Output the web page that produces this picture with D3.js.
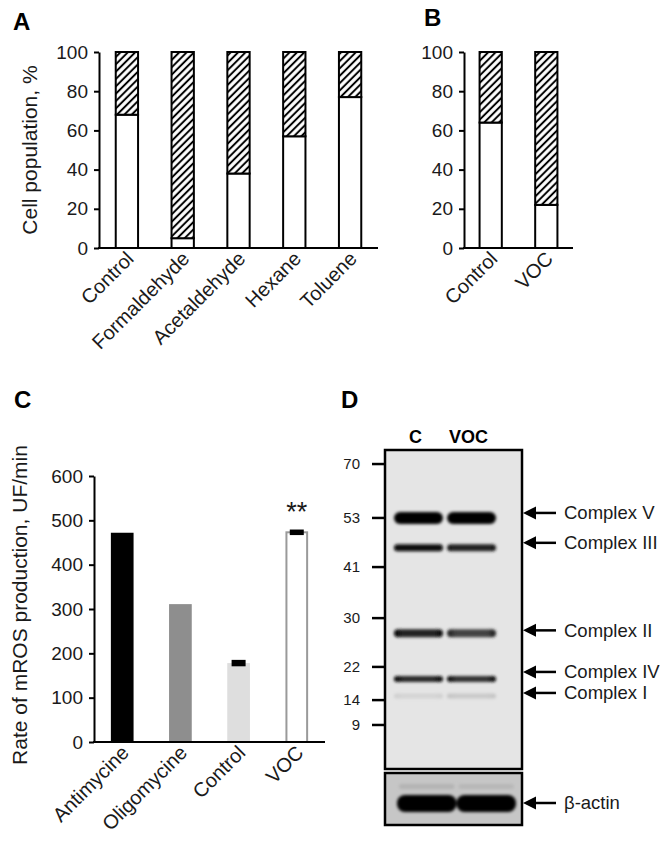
<!DOCTYPE html>
<html>
<head>
<meta charset="utf-8">
<script src="https://cdn.jsdelivr.net/npm/d3@7"></script>
<style>
  body { margin: 0; background: #fff; }
  svg { display: block; font-family: "Liberation Sans", Arial, sans-serif; }
</style>
</head>
<body>
<div id="fig"></div>
<script>
// panel A: cell population after single compounds
const catsA = ["Control", "Formaldehyde", "Acetaldehyde", "Hexane", "Toluene"];
const intactA = [68, 5, 38, 57, 77];
const damagedA = [32, 95, 62, 43, 23];
// panel B: control vs VOC mix
const catsB = ["Control", "VOC"];
const intactB = [64, 22];
const damagedB = [36, 78];
const pctTicks = [0, 20, 40, 60, 80, 100];

// panel C: mROS production rate
const catsC = ["Antimycine", "Oligomycine", "Control", "VOC"];
const rosC = [472, 311, 178, 473];
const errC = [0, 0, 5, 4];
const rosTicks = [0, 100, 200, 300, 400, 500, 600];

// panel D: western blot (ladder + OXPHOS complexes)
const markerKDa = [70, 53, 41, 30, 22, 14, 9];
const markerRf = [0.044, 0.213, 0.367, 0.527, 0.680, 0.784, 0.862];
const lanes = ["C", "VOC"];
const complexes = ["Complex V", "Complex III", "Complex II", "Complex IV", "Complex I"];
const complexKDa = [53, 45.7, 27.5, 19.1, 15];
const signalC = [1.0, 0.95, 0.86, 0.84, 0.07];
const signalVOC = [1.0, 0.86, 0.72, 0.8, 0.12];
const actinSignal = [1.0, 1.0];
const actinFaint = [0.1, 0.08];

const W = 666, H = 843;
const ink = "#1a1a1a";

const svg = d3.select("#fig").append("svg")
    .attr("width", W)
    .attr("height", H);

const defs = svg.append("defs");

// 斜线填充
const hatch = defs.append("pattern")
    .attr("id", "hatch")
    .attr("patternUnits", "userSpaceOnUse")
    .attr("width", 5.2)
    .attr("height", 5.2)
    .attr("patternTransform", "rotate(45)");
hatch.append("rect").attr("width", 5.2).attr("height", 5.2).attr("fill", "#fff");
hatch.append("line")
    .attr("x1", 2.6).attr("y1", 0).attr("x2", 2.6).attr("y2", 5.2)
    .attr("stroke", "#000").attr("stroke-width", 2);

defs.append("filter")
    .attr("id", "blur")
    .attr("filterUnits", "userSpaceOnUse")
    .attr("x", 370).attr("y", 430).attr("width", 180).attr("height", 420)
    .append("feGaussianBlur")
    .attr("stdDeviation", 1.8);

function panelLabel(txt, x, y) {
    svg.append("text")
        .attr("x", x).attr("y", y)
        .attr("font-size", 24)
        .attr("font-weight", "bold")
        .attr("fill", "#000")
        .text(txt);
}

function styleAxis(g) {
    g.select(".domain").attr("stroke", "#000").attr("stroke-width", 2);
    g.selectAll(".tick line").attr("stroke", "#000").attr("stroke-width", 2);
    g.selectAll(".tick text")
        .attr("font-size", 19)
        .attr("fill", ink)
        .attr("font-family", "Liberation Sans, Arial, sans-serif");
}

function categoryLabels(x, cats, y0) {
    svg.append("g").selectAll("text")
        .data(cats)
        .enter().append("text")
        .attr("transform", d => `translate(${x(d) + x.bandwidth() / 2 + 8}, ${y0 + 12}) rotate(-45)`)
        .attr("text-anchor", "end")
        .attr("font-size", 20)
        .attr("fill", ink)
        .text(d => d);
}

// 堆叠柱状图 (A, B)
function stackPanel(cats, intact, damaged, xRange, padIn, padOut, withTitle) {
    const y = d3.scaleLinear().domain([0, 100]).range([248, 52]);
    const x = d3.scaleBand().domain(cats).range(xRange).paddingInner(padIn).paddingOuter(padOut);

    const rows = cats.map((c, i) => ({c, a: intact[i], b: damaged[i]}));
    const g = svg.append("g");

    g.selectAll(".low").data(rows).enter().append("rect")
        .attr("x", d => x(d.c))
        .attr("y", d => y(d.a))
        .attr("width", x.bandwidth())
        .attr("height", d => y(0) - y(d.a))
        .attr("fill", "#fff")
        .attr("stroke", "#000")
        .attr("stroke-width", 2);

    g.selectAll(".high").data(rows).enter().append("rect")
        .attr("x", d => x(d.c))
        .attr("y", d => y(d.a + d.b))
        .attr("width", x.bandwidth())
        .attr("height", d => y(d.a) - y(d.a + d.b))
        .attr("fill", "url(#hatch)")
        .attr("stroke", "#000")
        .attr("stroke-width", 2);

    const ax = svg.append("g")
        .attr("transform", `translate(${xRange[0]}, 0)`)
        .call(d3.axisLeft(y).tickValues(pctTicks).tickSize(5).tickSizeOuter(0).tickPadding(6));
    styleAxis(ax);

    svg.append("line")
        .attr("x1", xRange[0] - 1).attr("x2", xRange[1])
        .attr("y1", y(0)).attr("y2", y(0))
        .attr("stroke", "#000").attr("stroke-width", 2);

    categoryLabels(x, cats, y(0));

    if (withTitle) {
        svg.append("text")
            .attr("transform", `translate(37, ${(y(0) + y(100)) / 2}) rotate(-90)`)
            .attr("text-anchor", "middle")
            .attr("font-size", 21)
            .attr("fill", ink)
            .text("Cell population, %");
    }
}

panelLabel("A", 13, 30);
stackPanel(catsA, intactA, damagedA, [99, 378], 0.6, 0.3, true);
panelLabel("B", 424, 26);
stackPanel(catsB, intactB, damagedB, [464, 573], 0.6, 0.28, false);

// 面板 C
panelLabel("C", 14, 408);
const yC = d3.scaleLinear().domain([0, 600]).range([742, 476]);
const xC = d3.scaleBand().domain(catsC).range([94, 325]).paddingInner(0.61).paddingOuter(0.29);
const fillsC = ["#000", "#8e8e8e", "#dedede", "#fff"];
const rowsC = catsC.map((c, i) => ({c, v: rosC[i], e: errC[i], f: fillsC[i]}));

svg.append("g").selectAll("rect").data(rowsC).enter().append("rect")
    .attr("x", d => xC(d.c) + (d.c === "VOC" ? 1 : 0))
    .attr("y", d => yC(d.v))
    .attr("width", d => xC.bandwidth() - (d.c === "VOC" ? 2 : 0))
    .attr("height", d => yC(0) - yC(d.v))
    .attr("fill", d => d.f)
    .attr("stroke", d => d.c === "VOC" ? "#9a9a9a" : "none")
    .attr("stroke-width", 2);

// 误差条
svg.append("g").selectAll("rect").data(rowsC.filter(d => d.e > 0)).enter().append("rect")
    .attr("x", d => xC(d.c) + xC.bandwidth() / 2 - 7)
    .attr("y", d => yC(d.v + d.e) - 1)
    .attr("width", 14)
    .attr("height", d => yC(d.v - d.e) - yC(d.v + d.e) + 2)
    .attr("fill", "#000");

svg.append("text")
    .attr("x", xC("VOC") + xC.bandwidth() / 2)
    .attr("y", yC(rosC[3]) - 11)
    .attr("text-anchor", "middle")
    .attr("font-size", 27)
    .attr("fill", ink)
    .text("**");

const axC = svg.append("g")
    .attr("transform", "translate(94, 0)")
    .call(d3.axisLeft(yC).tickValues(rosTicks).tickSize(5).tickSizeOuter(0).tickPadding(6));
styleAxis(axC);
svg.append("line")
    .attr("x1", 93).attr("x2", 325)
    .attr("y1", yC(0)).attr("y2", yC(0))
    .attr("stroke", "#000").attr("stroke-width", 2);
categoryLabels(xC, catsC, yC(0));

svg.append("text")
    .attr("transform", `translate(27, 605) rotate(-90)`)
    .attr("text-anchor", "middle")
    .attr("font-size", 21)
    .attr("fill", ink)
    .text("Rate of mROS production, UF/min");

// 面板 D: 免疫印迹
panelLabel("D", 341, 408);
const gel = {x0: 385, x1: 522, y0: 450, y1: 769};
const act = {y0: 773, y1: 825};
const kdaToRf = d3.scaleLinear().domain(markerKDa).range(markerRf);
const rfToY = d3.scaleLinear().domain([0, 1]).range([gel.y0, gel.y1]);
const yD = k => rfToY(kdaToRf(k));
const xLane = d3.scaleBand().domain(lanes).range([393, 497]).paddingInner(0.04);
const shade = d3.interpolateRgb("#e4e4e4", "#050505");
const actinShade = d3.interpolateRgb("#c6c6c6", "#050505");

svg.append("rect")
    .attr("x", gel.x0).attr("y", gel.y0)
    .attr("width", gel.x1 - gel.x0).attr("height", gel.y1 - gel.y0)
    .attr("fill", "#e5e5e5");
svg.append("rect")
    .attr("x", gel.x0).attr("y", act.y0)
    .attr("width", gel.x1 - gel.x0).attr("height", act.y1 - act.y0)
    .attr("fill", "#c6c6c6");

const bandH = [12, 7, 8, 6, 5];
const edgeBoost = [0, 0.05, 0.18, 0.2, 0.03];
const bandRows = [];
complexes.forEach((name, i) => {
    lanes.forEach((lane, j) => {
        const s = (j === 0 ? signalC : signalVOC)[i];
        bandRows.push({id: `band${i}_${j}`, lane, k: complexKDa[i], s, e: Math.min(1, s + edgeBoost[i]), h: bandH[i]});
    });
});

// 条带两端略深
bandRows.forEach(d => {
    const lg = defs.append("linearGradient").attr("id", d.id);
    [[0, d.e], [0.18, d.s], [0.82, d.s], [1, d.e]].forEach(([o, v]) => {
        lg.append("stop").attr("offset", o).attr("stop-color", shade(v));
    });
});

const bands = svg.append("g").attr("filter", "url(#blur)");
bands.selectAll("rect").data(bandRows).enter().append("rect")
    .attr("x", d => xLane(d.lane) + 1)
    .attr("y", d => yD(d.k) - d.h / 2)
    .attr("width", xLane.bandwidth() - 2)
    .attr("height", d => d.h)
    .attr("rx", d => d.h / 2)
    .attr("fill", d => `url(#${d.id})`);

// β-actin
const actinLane = d3.scaleBand().domain(lanes).range([397, 516]).paddingInner(0.0);
bands.selectAll(".actinFaint").data(lanes).enter().append("rect")
    .attr("x", d => actinLane(d) + 2)
    .attr("y", 784)
    .attr("width", actinLane.bandwidth() - 4)
    .attr("height", 5)
    .attr("rx", 2.5)
    .attr("fill", (d, i) => actinShade(actinFaint[i]));
bands.selectAll(".actin").data(lanes).enter().append("rect")
    .attr("x", d => actinLane(d))
    .attr("y", 795)
    .attr("width", actinLane.bandwidth())
    .attr("height", 17)
    .attr("rx", 8)
    .attr("fill", (d, i) => actinShade(actinSignal[i]));

svg.append("rect")
    .attr("x", gel.x0).attr("y", gel.y0)
    .attr("width", gel.x1 - gel.x0).attr("height", gel.y1 - gel.y0)
    .attr("fill", "none").attr("stroke", "#000").attr("stroke-width", 2.5);
svg.append("rect")
    .attr("x", gel.x0).attr("y", act.y0)
    .attr("width", gel.x1 - gel.x0).attr("height", act.y1 - act.y0)
    .attr("fill", "none").attr("stroke", "#000").attr("stroke-width", 2.5);

// 分子量标记
const mk = svg.append("g");
mk.selectAll("line").data(markerKDa).enter().append("line")
    .attr("x1", 372).attr("x2", gel.x0)
    .attr("y1", d => yD(d)).attr("y2", d => yD(d))
    .attr("stroke", "#000").attr("stroke-width", 2.5);
mk.selectAll("text").data(markerKDa).enter().append("text")
    .attr("x", 360)
    .attr("y", d => yD(d))
    .attr("dy", "0.35em")
    .attr("text-anchor", "end")
    .attr("font-size", 15)
    .attr("fill", ink)
    .text(d => d);

// 泳道标签
svg.selectAll(".lane").data(lanes).enter().append("text")
    .attr("x", d => xLane(d) + xLane.bandwidth() / 2 - 3)
    .attr("y", 443)
    .attr("text-anchor", "middle")
    .attr("font-size", 18)
    .attr("font-weight", "bold")
    .attr("fill", "#000")
    .text(d => d);

// 箭头与标签
const labelNudge = [-5, -5, -3, -7, -3];
const arrowRows = complexes.map((name, i) => ({name, y: yD(complexKDa[i]) + labelNudge[i]}));
arrowRows.push({name: "β-actin", y: 803});
const ar = svg.append("g");
ar.selectAll("path").data(arrowRows).enter().append("path")
    .attr("d", d => `M${gel.x1 + 1},${d.y}L${gel.x1 + 14},${d.y - 6.5}L${gel.x1 + 14},${d.y + 6.5}Z`)
    .attr("fill", "#000");
ar.selectAll("line").data(arrowRows).enter().append("line")
    .attr("x1", gel.x1 + 12).attr("x2", 556)
    .attr("y1", d => d.y).attr("y2", d => d.y)
    .attr("stroke", "#000").attr("stroke-width", 2.5);
ar.selectAll("text").data(arrowRows).enter().append("text")
    .attr("x", 564)
    .attr("y", d => d.y)
    .attr("dy", "0.35em")
    .attr("font-size", 18.5)
    .attr("fill", ink)
    .text(d => d.name);
</script>
</body>
</html>
